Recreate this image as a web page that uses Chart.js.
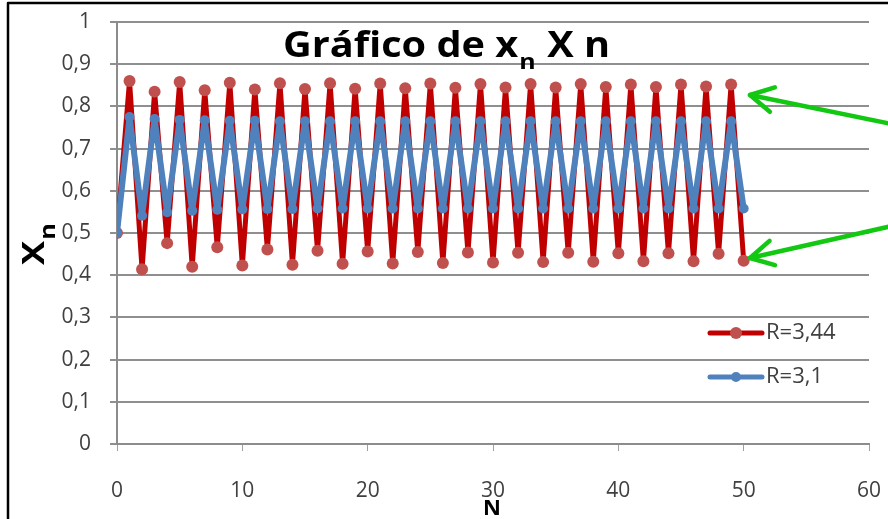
<!DOCTYPE html>
<html><head><meta charset="utf-8">
<script src="https://cdn.jsdelivr.net/npm/chart.js@4/dist/chart.umd.min.js"></script>
<style>html,body{margin:0;padding:0;background:#fff;overflow:hidden}#wrap{width:888px;height:519px;position:relative}</style>
</head><body><div id="wrap"><canvas id="c" width="888" height="519"></canvas></div>
<script>
// ---- data ----
const N = [0,1,2,3,4,5,6,7,8,9,10,11,12,13,14,15,16,17,18,19,20,21,22,23,24,25,26,27,28,29,30,31,32,33,34,35,36,37,38,39,40,41,42,43,44,45,46,47,48,49,50];
const xR344 = [0.500,0.860,0.414,0.835,0.476,0.858,0.420,0.838,0.466,0.856,0.423,0.840,0.461,0.855,0.425,0.841,0.458,0.855,0.427,0.842,0.456,0.854,0.428,0.843,0.455,0.854,0.429,0.844,0.454,0.853,0.430,0.845,0.453,0.853,0.431,0.845,0.453,0.853,0.432,0.846,0.452,0.852,0.433,0.846,0.452,0.852,0.433,0.847,0.451,0.852,0.434];
const xR31  = [0.500,0.775,0.541,0.770,0.549,0.768,0.553,0.767,0.555,0.766,0.556,0.766,0.557,0.765,0.557,0.765,0.558,0.765,0.558,0.765,0.558,0.765,0.558,0.765,0.558,0.765,0.558,0.765,0.558,0.765,0.558,0.765,0.558,0.765,0.558,0.765,0.558,0.765,0.558,0.765,0.558,0.765,0.558,0.765,0.558,0.765,0.558,0.765,0.558,0.765,0.558];
const seriesLabels = ['R=3,44', 'R=3,1'];
const xTicks = [0,10,20,30,40,50,60];
const yTicks = [0,0.1,0.2,0.3,0.4,0.5,0.6,0.7,0.8,0.9,1];
const titleMain = 'Gráfico de x', titleSub = 'n', titleEnd = ' X n';
const yTitle = 'X', yTitleSub = 'n';
const xTitle = 'N';

// ---- styles ----
const RED_LINE = '#C00000', RED_PT = '#C0504D';
const BLUE = '#4F81BD';
const FONT = '"Open Sans", Lato, sans-serif';
const TICK_COLOR = '#404040';

function fmt(v){ return (Math.round(v*10)/10).toString().replace('.', ','); }

const overlay = {
  id: 'overlay',
  afterDraw(chart){
    const c = chart.ctx;
    c.save();
    // title (drawn horizontally stretched like the reference)
    c.fillStyle = '#000';
    c.textBaseline = 'alphabetic';
    c.textAlign = 'left';
    const big = 'bold 35px ' + FONT, small = 'bold 22px ' + FONT;
    c.font = big;
    const w1 = c.measureText(titleMain).width;
    const w3 = c.measureText(titleEnd).width;
    c.font = small;
    const w2 = c.measureText(titleSub).width;
    const tot = w1 + w2 + w3 + 2;
    const sx = 327 / tot;
    c.save();
    c.translate(283, 0);
    c.scale(sx, 1);
    c.font = big; c.fillText(titleMain, 0, 57);
    c.font = small; c.fillText(titleSub, w1 + 1, 69);
    c.font = big; c.fillText(titleEnd, w1 + w2 + 2, 57);
    c.restore();

    // y title (rotated)
    c.save();
    c.translate(44, 265);
    c.rotate(-Math.PI/2);
    c.scale(1.2, 1);
    c.font = 'bold 30px ' + FONT;
    c.fillText(yTitle, 0, 0);
    const wx = c.measureText(yTitle).width;
    c.font = 'bold 21px ' + FONT;
    c.fillText(yTitleSub, wx + 1, 11);
    c.restore();

    // x title
    c.font = 'bold 22px ' + FONT;
    c.textAlign = 'center';
    c.fillText(xTitle, 492, 515);

    // legend
    const items = [
      {label: seriesLabels[0], line: RED_LINE, pt: RED_PT, y: 333, r: 6},
      {label: seriesLabels[1], line: BLUE, pt: BLUE, y: 377, r: 5}
    ];
    items.forEach(it => {
      c.strokeStyle = it.line; c.lineWidth = 5; c.lineCap = 'round';
      c.beginPath(); c.moveTo(710, it.y); c.lineTo(762, it.y); c.stroke();
      c.fillStyle = it.pt;
      c.beginPath(); c.arc(736, it.y, it.r, 0, Math.PI*2); c.fill();
      c.fillStyle = TICK_COLOR;
      c.font = '22px ' + FONT; c.textAlign = 'left'; c.textBaseline = 'middle';
      c.fillText(it.label, 766, it.y);
    });

    // green arrows
    function arrow(x1,y1,x2,y2){
      c.strokeStyle = '#12C812'; c.lineWidth = 4.5; c.lineCap = 'round'; c.lineJoin = 'round';
      c.beginPath(); c.moveTo(x1,y1); c.lineTo(x2,y2); c.stroke();
      const a = Math.atan2(y1-y2, x1-x2), L = 26, s = 0.5;
      c.beginPath();
      c.moveTo(x2 + L*Math.cos(a+s), y2 + L*Math.sin(a+s));
      c.lineTo(x2, y2);
      c.lineTo(x2 + L*Math.cos(a-s), y2 + L*Math.sin(a-s));
      c.stroke();
    }
    arrow(892, 124, 750, 95);
    arrow(892, 226, 750, 258);

    // frame
    c.strokeStyle = '#000'; c.lineWidth = 2.5;
    c.beginPath(); c.moveTo(8, 525); c.lineTo(8, 3); c.lineTo(895, 3); c.stroke();
    c.restore();
  }
};

new Chart(document.getElementById('c'), {
  type: 'line',
  data: {
    datasets: [
      { label: seriesLabels[0], data: N.map((n,i)=>({x:n, y:xR344[i]})),
        borderColor: RED_LINE, backgroundColor: RED_PT, pointBackgroundColor: RED_PT, pointBorderColor: RED_PT,
        pointRadius: 6, pointBorderWidth: 0, borderWidth: 5, borderJoinStyle: 'round', borderCapStyle: 'round',
        tension: 0, order: 2 },
      { label: seriesLabels[1], data: N.map((n,i)=>({x:n, y:xR31[i]})),
        borderColor: BLUE, backgroundColor: BLUE, pointBackgroundColor: BLUE, pointBorderColor: BLUE,
        pointRadius: 5, pointBorderWidth: 0, borderWidth: 6, borderJoinStyle: 'round', borderCapStyle: 'round',
        tension: 0, order: 1 }
    ]
  },
  options: {
    responsive: false, animation: false, devicePixelRatio: 1,
    layout: { padding: { left: 0, right: 19, top: 22, bottom: 0 } },
    plugins: { legend: { display: false }, tooltip: { enabled: false }, title: { display: false } },
    scales: {
      x: {
        type: 'linear', min: 0, max: 60,
        afterBuildTicks: s => { s.ticks = xTicks.map(v => ({ value: v })); },
        afterFit: s => { s.height = 75; s.paddingRight = 0; s.paddingLeft = 0; },
        grid: { drawOnChartArea: false, drawTicks: true, tickLength: 7, color: '#a0a0a0', lineWidth: 1 },
        border: { color: '#8c8c8c', width: 2 },
        ticks: { font: { family: FONT, size: 21 }, color: TICK_COLOR, padding: 27, maxRotation: 0 }
      },
      y: {
        min: 0, max: 1,
        afterBuildTicks: s => { s.ticks = yTicks.map(v => ({ value: v })); },
        afterFit: s => { s.width = 117; s.paddingTop = 0; s.paddingBottom = 0; },
        grid: { color: '#8f8f8f', lineWidth: 2, tickLength: 7 },
        border: { color: '#8c8c8c', width: 2 },
        ticks: { font: { family: FONT, size: 21 }, color: TICK_COLOR, padding: 19, callback: v => fmt(v) }
      }
    }
  },
  plugins: [overlay]
});
</script>
</body></html>
